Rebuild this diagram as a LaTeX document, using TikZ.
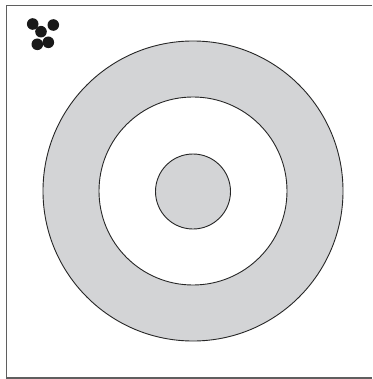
\documentclass[tikz,border=0pt]{standalone}
\definecolor{ringgray}{RGB}{211,212,214}
\definecolor{framegray}{RGB}{95,95,95}
\tikzset{
  ring/.style={draw=black!85, line width=0.9pt},
  dot/.style={fill=black!90},
  frameline/.style={draw=framegray, line width=1.6pt}
}
\begin{document}
\begin{tikzpicture}[x=1pt,y=-1pt]
\useasboundingbox (0,0) rectangle (372,379);
\fill[white] (0,0) rectangle (372,379);
% frame (left, top, bottom)
\draw[frameline] (372,5.5) -- (6.5,5.5) -- (6.5,378) -- (372,378);
% target
\filldraw[ring, fill=ringgray] (193,191) circle (150);
\filldraw[ring, fill=white] (193,191) circle (94);
\filldraw[ring, fill=ringgray] (193,191.5) circle (37.5);
% dots
\fill[dot] (32.7,24) circle (5.8);
\fill[dot] (53.3,25) circle (5.8);
\fill[dot] (41,31.7) circle (5.8);
\fill[dot] (37.3,44.3) circle (5.8);
\fill[dot] (48.3,42.3) circle (5.8);
\end{tikzpicture}
\end{document}
